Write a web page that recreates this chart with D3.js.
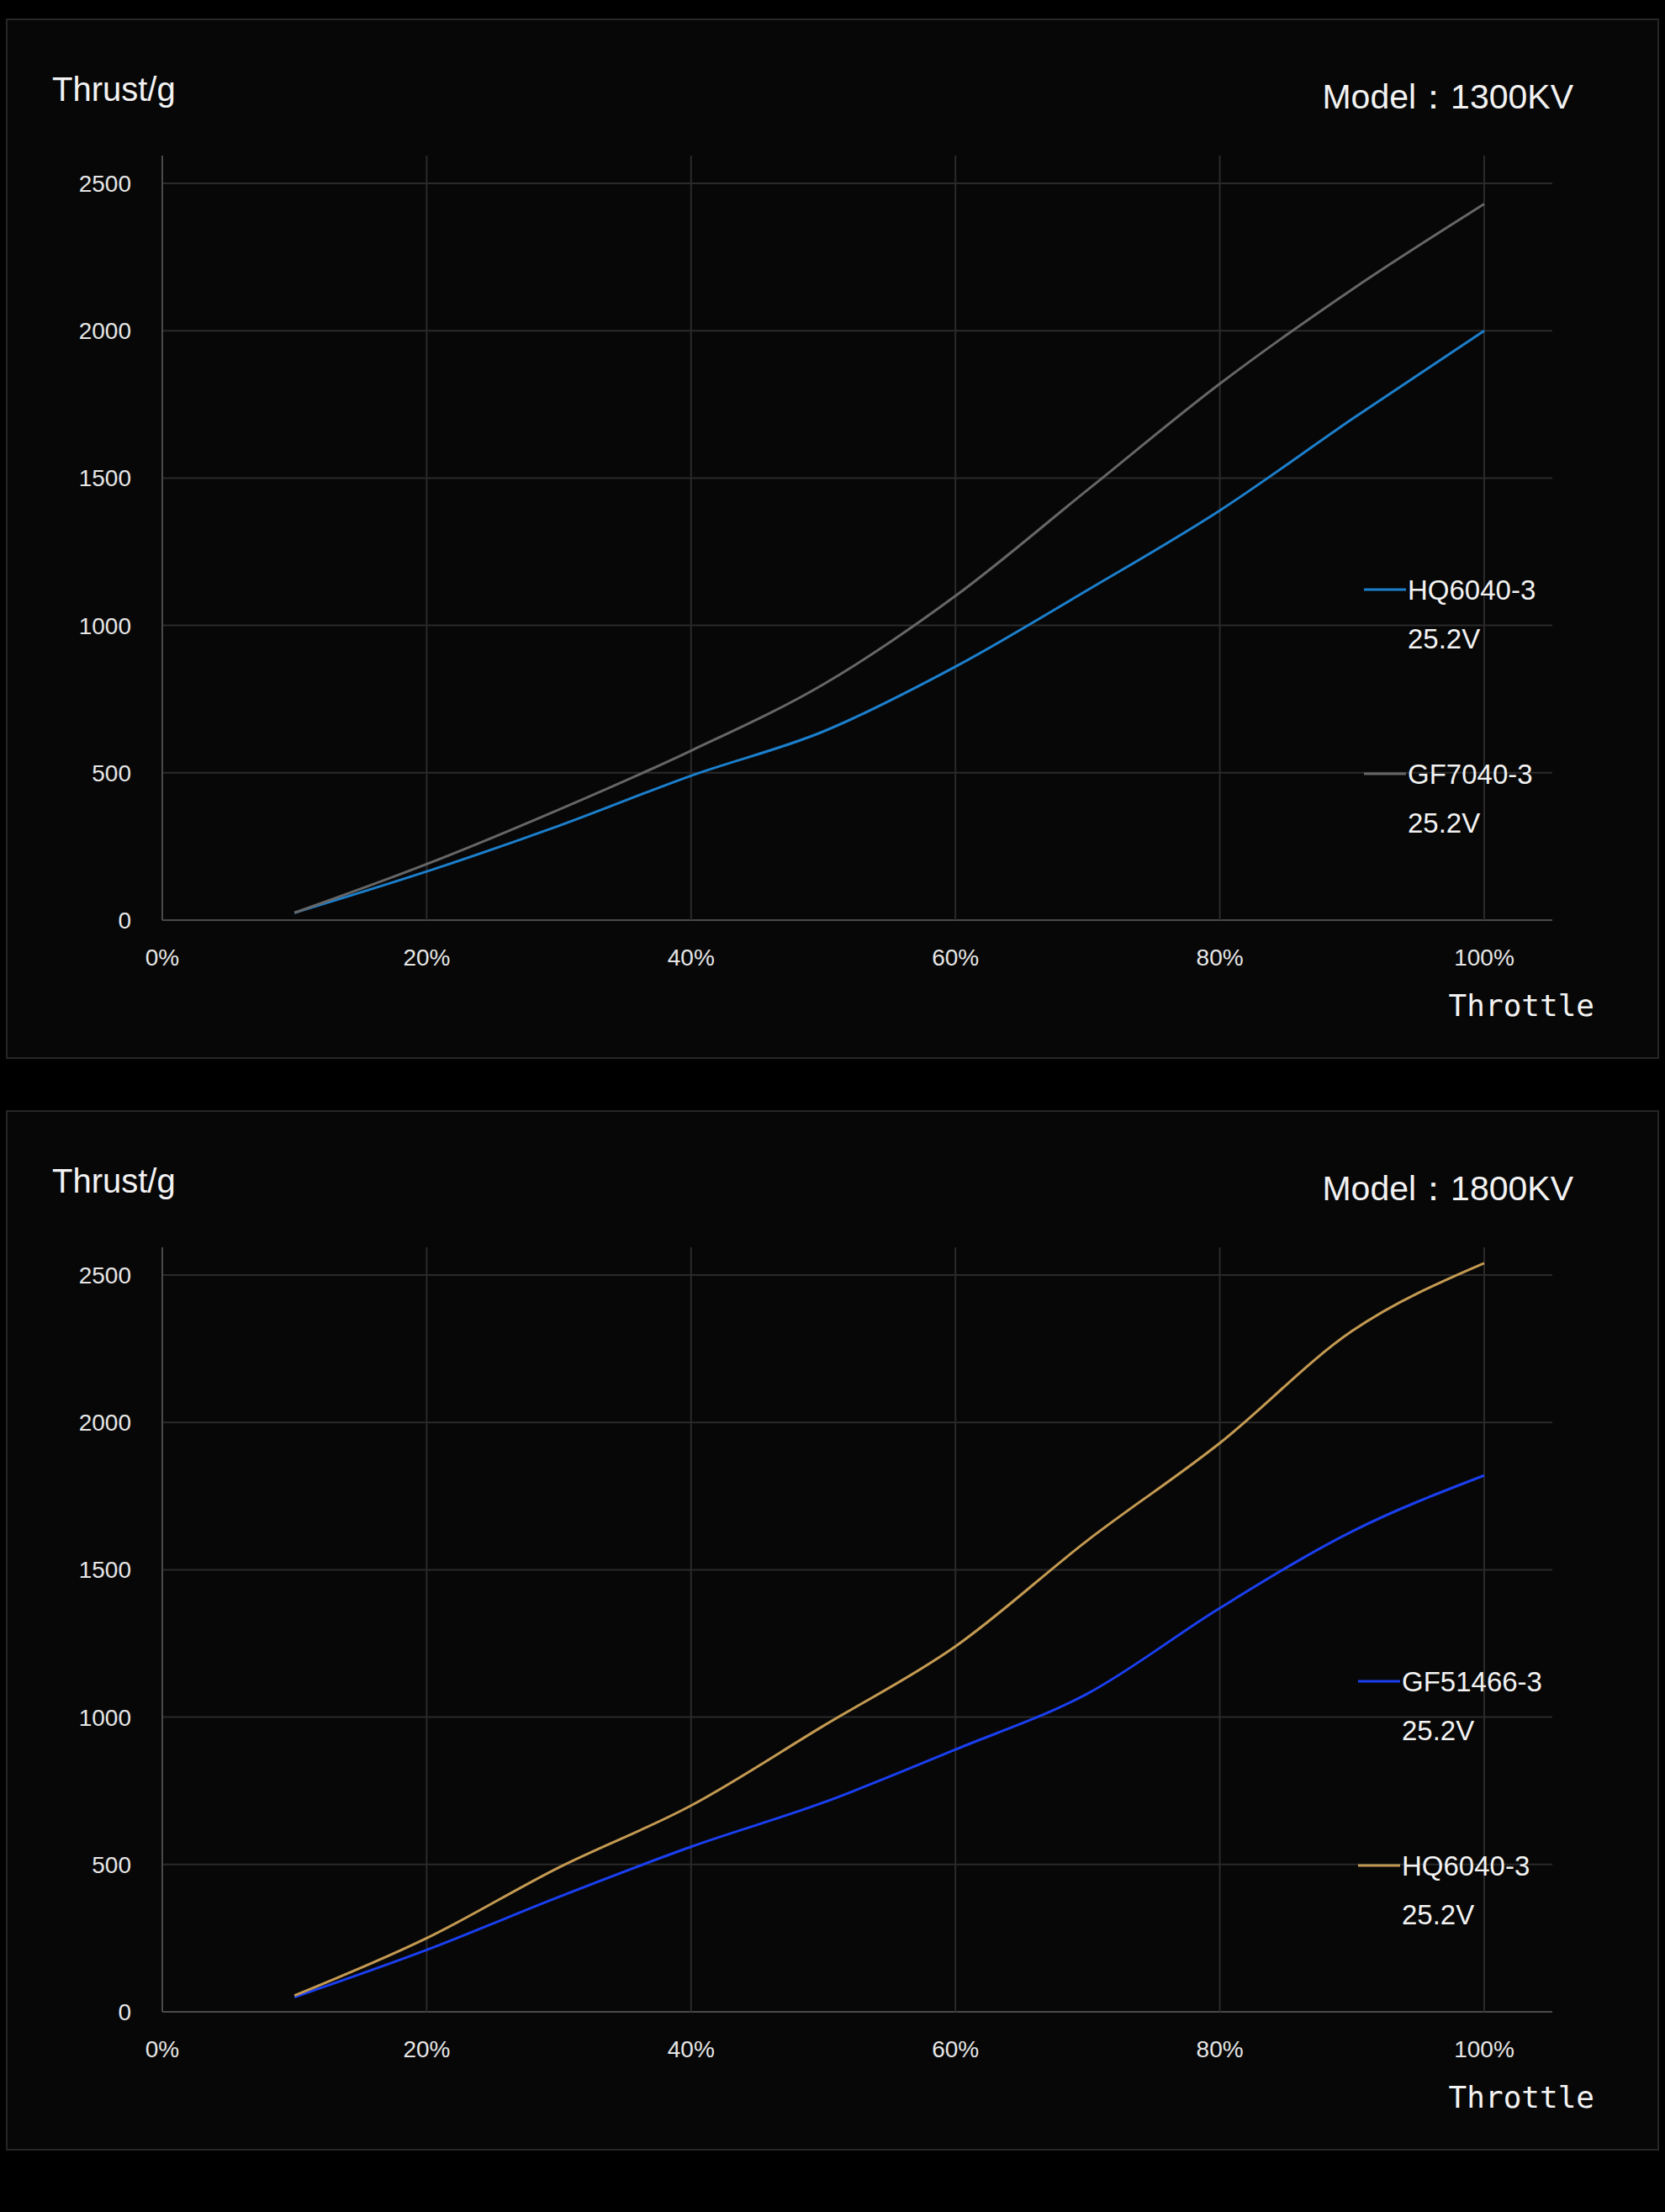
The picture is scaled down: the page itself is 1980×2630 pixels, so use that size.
<!DOCTYPE html>
<html><head><meta charset="utf-8">
<script src="https://cdn.jsdelivr.net/npm/d3@7"></script>
<style>body{margin:0;background:#000}svg{display:block}</style>
</head><body><svg id="viz" width="1980" height="2630"></svg>
<script>
var throttle = [10,20,30,40,50,60,70,80,90,100];
var xTicks = [0,20,40,60,80,100];
var yTicks = [0,500,1000,1500,2000,2500];
// 1300KV
var hq1300 = [25,165,320,490,640,860,1120,1390,1700,2000];
var gf7040 = [25,190,375,575,800,1100,1460,1820,2140,2430];
// 1800KV
var gf51466 = [50,210,390,560,710,890,1080,1370,1630,1820];
var hq1800 = [55,250,490,700,970,1240,1600,1930,2310,2540];

var charts = [
  {top:0, legendX:1622, model:"Model：1300KV", series:[
    {name:"HQ6040-3", volt:"25.2V", color:"#1c7fcc", values:hq1300},
    {name:"GF7040-3", volt:"25.2V", color:"#666666", values:gf7040}]},
  {top:1298, legendX:1615, model:"Model：1800KV", series:[
    {name:"GF51466-3", volt:"25.2V", color:"#1a3ff0", values:gf51466},
    {name:"HQ6040-3", volt:"25.2V", color:"#c49a52", values:hq1800}]}
];

var svg = d3.select("#viz");
var font = "'Liberation Sans', Arial, sans-serif";

charts.forEach(function(c){
  var g = svg.append("g").attr("transform","translate(0,"+c.top+")");
  g.append("rect").attr("x",8).attr("y",23).attr("width",1964).attr("height",1235)
    .attr("fill","#070707").attr("stroke","#262626").attr("stroke-width",2);

  var x = d3.scaleLinear().domain([0,100]).range([193,1765]);
  var y = d3.scaleLinear().domain([0,2500]).range([1094,218]);

  // grid
  g.selectAll(".hg").data(yTicks).enter().append("line")
    .attr("x1",193).attr("x2",1846).attr("y1",d=>y(d)).attr("y2",d=>y(d))
    .attr("stroke",d=>d===0?"#4a4a4a":"#2a2a2a").attr("stroke-width",2);
  g.selectAll(".vg").data(xTicks).enter().append("line")
    .attr("x1",d=>x(d)).attr("x2",d=>x(d)).attr("y1",185).attr("y2",1094)
    .attr("stroke",d=>d===0?"#4a4a4a":"#2a2a2a").attr("stroke-width",2);

  g.selectAll(".yl").data(yTicks).enter().append("text")
    .attr("x",156).attr("y",d=>y(d)+10).attr("text-anchor","end")
    .attr("fill","#e6e6e6").attr("font-family",font).attr("font-size",28).text(d=>d);
  g.selectAll(".xl").data(xTicks).enter().append("text")
    .attr("x",d=>x(d)).attr("y",1148).attr("text-anchor","middle")
    .attr("fill","#e6e6e6").attr("font-family",font).attr("font-size",28).text(d=>d+"%");

  g.append("text").attr("x",62).attr("y",120).attr("fill","#f2f2f2")
    .attr("font-family",font).attr("font-size",40).text("Thrust/g");
  g.append("text").attr("x",1871).attr("y",129).attr("text-anchor","end").attr("fill","#f2f2f2")
    .attr("font-family",font).attr("font-size",41).text(c.model);
  g.append("text").attr("x",1896).attr("y",1208).attr("text-anchor","end").attr("fill","#f2f2f2")
    .attr("font-family","'DejaVu Sans Mono', monospace").attr("font-size",36).text("Throttle");

  var line = d3.line().x((d,i)=>x(throttle[i])).y(d=>y(d)).curve(d3.curveMonotoneX);
  c.series.forEach(function(s,k){
    g.append("path").datum(s.values).attr("d",line).attr("fill","none")
      .attr("stroke",s.color).attr("stroke-width",3);
    var ly = 701 + k*219;
    g.append("line").attr("x1",c.legendX).attr("x2",c.legendX+50).attr("y1",ly).attr("y2",ly)
      .attr("stroke",s.color).attr("stroke-width",3);
    g.append("text").attr("x",c.legendX+52).attr("y",ly+12).attr("fill","#f2f2f2")
      .attr("font-family",font).attr("font-size",33).text(s.name);
    g.append("text").attr("x",c.legendX+52).attr("y",ly+70).attr("fill","#f2f2f2")
      .attr("font-family",font).attr("font-size",33).text(s.volt);
  });
});
</script></body></html>
